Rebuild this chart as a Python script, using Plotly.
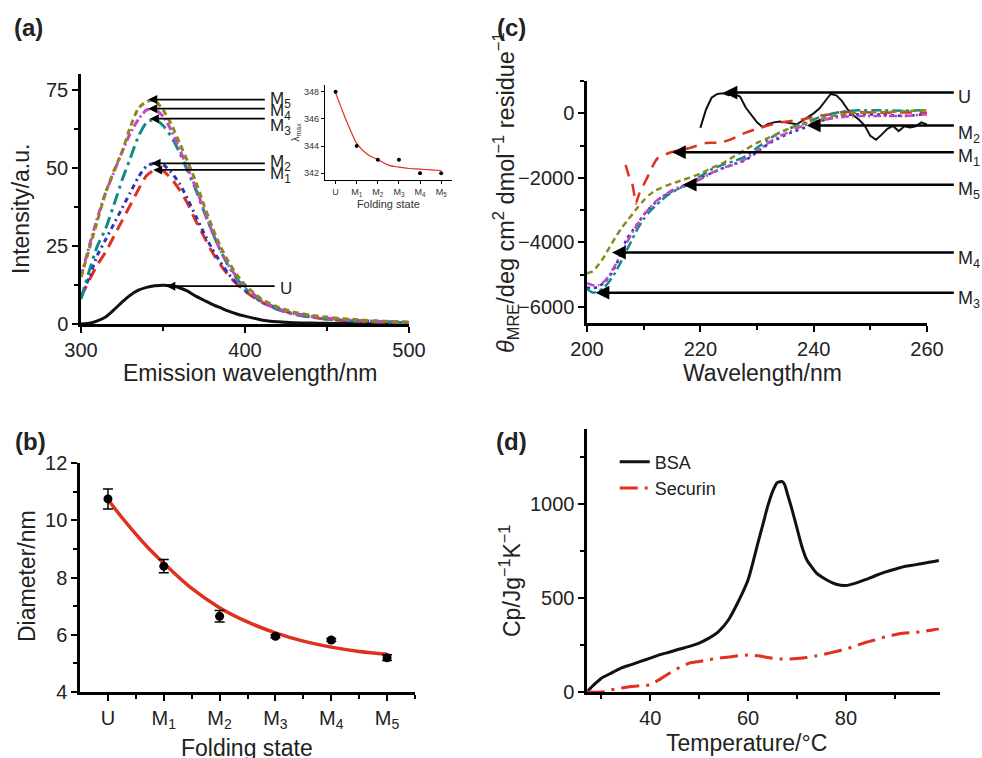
import plotly.graph_objects as go

FONT = "Liberation Sans, Arial, sans-serif"

# ---------------- (a) fluorescence emission ----------------
wl_a = [300, 305, 310, 315, 320, 325, 330, 335, 340, 345, 350, 355, 360, 365, 370,
        375, 380, 385, 390, 395, 400, 410, 420, 430, 440, 450, 460, 470, 480, 490, 500]
int_U = [0, 0.2, 1, 2.2, 4.5, 7, 9.2, 10.8, 11.7, 12.2, 12.4, 12.2, 11.6, 10.5, 8.9,
         7.6, 6.3, 5.2, 4.1, 3.2, 2.5, 1.3, 0.7, 0.4, 0.3, 0.2, 0.15, 0.1, 0.1, 0.1, 0.1]
int_M1 = [8.7, 14, 19, 23, 28, 33, 38, 43, 47.5, 49.3, 49, 46.5, 43, 38.5, 33,
          28, 23, 19, 15.5, 12.8, 10.5, 7, 4.8, 3.2, 2.2, 1.5, 1.1, 0.8, 0.6, 0.5, 0.4]
int_M2 = [8.5, 15, 22, 27, 32, 37, 42, 47, 50.5, 51.5, 51, 48.5, 45, 40, 34.5,
          29, 24, 19.8, 16, 13, 10.8, 7.2, 5, 3.4, 2.4, 1.7, 1.3, 1.0, 0.8, 0.6, 0.5]
int_M3 = [8, 17, 25, 30.5, 38, 46, 53, 60, 64.5, 65.5, 63.5, 60, 55, 49, 43,
          36, 29.5, 23.5, 18.5, 14.5, 11.5, 7.2, 4.6, 3.1, 2.2, 1.6, 1.2, 0.9, 0.7, 0.5, 0.4]
int_M4 = [15, 25, 34, 42, 48.5, 55, 61, 65.5, 68.5, 68.7, 66.5, 62, 56, 50, 43.5,
          36.5, 29.5, 23.5, 18.8, 15, 12, 7.5, 4.9, 3.3, 2.4, 1.8, 1.4, 1.1, 0.9, 0.7, 0.5]
int_M5 = [15, 24, 33, 42, 49, 55, 63, 69, 71.2, 71.5, 68.5, 64, 58, 52, 45.5,
          38, 31, 24.8, 19.8, 15.8, 12.5, 8, 5.4, 3.8, 2.8, 2.2, 1.7, 1.3, 1.0, 0.8, 0.6]

# peak-arrow annotations for (a): label, head x, head y, tail x, label y
a_labels = ["M<sub>5</sub>", "M<sub>4</sub>", "M<sub>3</sub>", "M<sub>2</sub>", "M<sub>1</sub>", "U"]
a_head_x = [341, 341, 342, 343, 344, 352]
a_head_y = [71.8, 68.9, 65.7, 51.4, 49.3, 12.1]
a_tail_x = [413, 413, 413, 413, 413, 419]
a_text_y = [72.6, 68.7, 64.0, 52.6, 48.7, 12.4]

# inset of (a): lambda max vs folding state
states = ["U", "M<sub>1</sub>", "M<sub>2</sub>", "M<sub>3</sub>", "M<sub>4</sub>", "M<sub>5</sub>"]
state_idx = [0, 1, 2, 3, 4, 5]
lam_max = [348, 344, 343, 343, 342, 342]
lam_fit_x = [0, 0.25, 0.5, 0.75, 1, 1.5, 2, 2.5, 3, 3.5, 4, 4.5, 5]
lam_fit_y = [347.9, 346.9, 345.9, 345.0, 344.2, 343.4, 343.0, 342.6, 342.45, 342.35, 342.3, 342.25, 342.2]

# ---------------- (b) hydrodynamic diameter ----------------
diam = [10.75, 8.4, 6.65, 5.95, 5.82, 5.2]
diam_err = [0.35, 0.23, 0.2, 0.05, 0.05, 0.1]
diam_fit_x = [0, 0.25, 0.5, 0.75, 1, 1.5, 2, 2.5, 3, 3.5, 4, 4.5, 5]
diam_fit_y = [10.73, 10.1, 9.52, 8.98, 8.5, 7.62, 6.95, 6.45, 6.07, 5.78, 5.57, 5.42, 5.32]

# ---------------- (c) CD spectra ----------------
wl_cU = list(range(220, 261))
cd_U = [-450, 120, 490, 600, 620, 560, 600, 520, 180, -60, -280, -430, -330, -280, -250,
        -280, -300, -340, -230, -110, 0, 150, 380, 600, 560, 380, 120, -60, -200, -380,
        -700, -820, -660, -480, -390, -550, -400, -440, -400, -280, -350]
wl_cM1 = [206.8, 207.4, 208, 208.4, 208.6, 209.2, 209.9, 210.6, 211.7, 212.4, 213.5, 215,
          218, 221, 223.5, 225.5, 228, 230.5, 233.5, 236, 238, 240.5, 243, 245, 248, 252, 256, 260]
cd_M1 = [-1600, -1950, -2200, -2600, -2800, -2500, -2250, -2000, -1600, -1400, -1300, -1200,
         -1080, -920, -910, -800, -600, -450, -300, -240, -190, -90, -30, 40, 40, 20, 30, 20]
wl_c = [200, 201, 202, 203, 204, 205, 206, 207, 208, 209, 210, 211, 212, 213, 214, 215, 216,
        217, 218, 220, 222, 224, 226, 228, 230, 232, 234, 236, 238, 240, 242, 244, 246, 248,
        252, 256, 260]
cd_M2 = [-5400, -5420, -5380, -5250, -5050, -4750, -4350, -3900, -3650, -3400, -3150, -2950,
         -2780, -2620, -2520, -2420, -2340, -2270, -2200, -2000, -1850, -1700, -1570, -1450,
         -1200, -950, -760, -600, -470, -330, -200, -100, -50, -30, -40, -80, -20]
cd_M3 = [-5450, -5560, -5520, -5400, -5200, -4930, -4600, -4250, -3900, -3550, -3280, -3060,
         -2880, -2720, -2560, -2450, -2350, -2260, -2180, -1950, -1740, -1590, -1480, -1330,
         -1070, -810, -600, -446, -310, -187, -60, 20, 73, 93, 93, 83, 100]
cd_M4 = [-5270, -5330, -5330, -5220, -5000, -4700, -4350, -4020, -3690, -3420, -3150, -2950,
         -2750, -2620, -2500, -2380, -2300, -2240, -2190, -2050, -1850, -1690, -1590, -1410,
         -1170, -915, -705, -550, -395, -290, -200, -135, -100, -83, -83, -83, -30]
cd_M5 = [-4960, -4900, -4700, -4450, -4150, -3850, -3580, -3350, -3130, -2900, -2700, -2530,
         -2400, -2320, -2240, -2180, -2120, -2060, -2000, -1870, -1690, -1540, -1330, -1120,
         -915, -760, -600, -446, -340, -240, -135, -60, -10, 20, 40, 62, 100]

c_labels = ["U", "M<sub>2</sub>", "M<sub>1</sub>", "M<sub>5</sub>", "M<sub>4</sub>", "M<sub>3</sub>"]
c_head_x = [224.1, 238.8, 215.0, 216.9, 204.4, 201.5]
c_head_y = [645, -374, -1204, -2211, -4318, -5564]
c_tail_x = [265, 265, 265, 265, 265, 265]
c_text_y = [592, -550, -1280, -2310, -4443, -5668]

# ---------------- (d) DSC ----------------
temp_bsa = [27, 28, 29, 30, 32, 34, 36, 38, 40, 42, 44, 46, 48, 50, 52, 54, 56, 58, 60, 62,
            63, 64, 65, 66, 67, 67.5, 68, 69, 70, 71, 72, 74, 76, 78, 80, 82, 84, 86, 88, 90,
            92, 94, 96, 98, 99]
cp_bsa = [0, 27, 51, 74, 101, 128, 145, 163, 181, 199, 213, 229, 243, 261, 287, 323, 385,
          482, 598, 793, 890, 988, 1067, 1115, 1120, 1103, 1058, 970, 872, 775, 704, 633, 598,
          574, 567, 580, 598, 619, 638, 654, 668, 677, 686, 695, 700]
temp_sec = [27, 30, 32, 34, 36, 38, 40, 42, 44, 46, 48, 50, 52, 54, 56, 58, 60, 62, 64, 66,
            68, 70, 72, 74, 76, 78, 80, 82, 84, 86, 88, 90, 92, 94, 96, 98, 99]
cp_sec = [0, 0, 12, 21, 30, 34, 39, 69, 101, 131, 154, 163, 172, 181, 186, 193, 197, 193, 184,
          177, 176, 179, 184, 193, 204, 216, 229, 246, 264, 278, 293, 305, 314, 317, 323, 332, 335]

BLACK = "#111111"
RED = "#e0301e"
BLUE = "#2b35b5"
TEAL = "#138a8a"
MAGENTA = "#c446c6"
OLIVE = "#8a8a1c"

fig = go.Figure()

def line(x, y, color, dash, width, xa, ya, name="", shape="spline", legend=False, smooth=0.6):
    fig.add_trace(go.Scatter(x=x, y=y, mode="lines", name=name, showlegend=legend,
                             line=dict(color=color, dash=dash, width=width, shape=shape,
                                       smoothing=smooth),
                             xaxis=xa, yaxis=ya))

# (a)
line(wl_a, int_U, BLACK, "solid", 3, "x", "y")
line(wl_a, int_M1, RED, "12px,7px", 3, "x", "y")
line(wl_a, int_M2, BLUE, "5px,4px,2px,4px", 3, "x", "y")
line(wl_a, int_M3, TEAL, "12px,5px,3px,5px", 3, "x", "y")
line(wl_a, int_M4, MAGENTA, "8px,3px,2px,3px", 3, "x", "y")
line(wl_a, int_M5, OLIVE, "6px,4px", 3, "x", "y")

# inset
line(lam_fit_x, lam_fit_y, RED, "solid", 1.2, "x2", "y2", smooth=1.0)
fig.add_trace(go.Scatter(x=state_idx, y=lam_max, mode="markers", showlegend=False,
                         marker=dict(color="black", size=4), xaxis="x2", yaxis="y2"))

# (b)
line(diam_fit_x, diam_fit_y, RED, "solid", 3.5, "x4", "y4", smooth=1.0)
fig.add_trace(go.Scatter(x=state_idx, y=diam, mode="markers", showlegend=False,
                         marker=dict(color="black", size=9),
                         error_y=dict(type="data", array=diam_err, color="black",
                                      thickness=1.5, width=5),
                         xaxis="x4", yaxis="y4"))

# (c)
line(wl_cU, cd_U, BLACK, "solid", 2, "x3", "y3", shape="linear")
line(wl_cM1, cd_M1, RED, "12px,8px", 2.5, "x3", "y3")
line(wl_c, cd_M2, BLUE, "3px,4px", 2.5, "x3", "y3")
line(wl_c, cd_M3, TEAL, "10px,4px,3px,4px", 2.5, "x3", "y3")
line(wl_c, cd_M4, MAGENTA, "8px,3px,2px,3px", 2.5, "x3", "y3")
line(wl_c, cd_M5, OLIVE, "6px,4px", 2.5, "x3", "y3")

# (d)
line(temp_bsa, cp_bsa, BLACK, "solid", 3, "x5", "y5", name="BSA", legend=True)
line(temp_sec, cp_sec, RED, "18px,7px,3px,7px", 3, "x5", "y5", name="Securin", legend=True)

AX = dict(showline=True, linecolor="black", linewidth=2.5, ticks="outside", ticklen=6,
          tickwidth=2, tickcolor="black", showgrid=False, zeroline=False,
          tickfont=dict(size=20, color="#222", family=FONT))
MINOR = dict(ticks="outside", ticklen=4, tickwidth=2, tickcolor="black", showgrid=False)

fig.update_layout(
    width=982, height=758, margin=dict(l=0, r=0, t=0, b=0, pad=0, autoexpand=False),
    paper_bgcolor="white", plot_bgcolor="white",
    font=dict(family=FONT, color="#222"),
    xaxis=dict(AX, domain=[0.0825, 0.4165], range=[300, 500], anchor="y",
               tickvals=[300, 400, 500], minor=dict(MINOR, dtick=50)),
    yaxis=dict(AX, domain=[0.5726, 0.9024], range=[0, 80], anchor="x",
               tickvals=[0, 25, 50, 75], minor=dict(MINOR, dtick=12.5)),
    xaxis2=dict(AX, domain=[0.331, 0.460], range=[-0.5, 5.5], anchor="y2",
                linewidth=1.2, ticklen=3, tickwidth=1,
                tickvals=state_idx, ticktext=states, tickfont=dict(size=9, color="#333"),
                title=dict(text="Folding state", font=dict(size=11, color="#333"), standoff=2)),
    yaxis2=dict(AX, domain=[0.7625, 0.888], range=[341.5, 348.5], anchor="x2",
                linewidth=1.2, ticklen=3, tickwidth=1,
                tickvals=[342, 344, 346, 348], tickfont=dict(size=9, color="#333"),
                title=dict(text="λ<sub>max</sub>", font=dict(size=10, color="#333"), standoff=2)),
    xaxis3=dict(AX, domain=[0.5978, 0.944], range=[200, 260], anchor="y3",
                tickvals=[200, 220, 240, 260], minor=dict(MINOR, dtick=10)),
    yaxis3=dict(AX, domain=[0.574, 0.893], range=[-6500, 1000], anchor="x3",
                tickvals=[-6000, -4000, -2000, 0], minor=dict(MINOR, dtick=1000)),
    xaxis4=dict(AX, domain=[0.0815, 0.4226], range=[-0.5, 5.5], anchor="y4",
                tickvals=state_idx, ticktext=states,
                minor=dict(MINOR, tickvals=[0.5, 1.5, 2.5, 3.5, 4.5, 5.5])),
    yaxis4=dict(AX, domain=[0.087, 0.389], range=[4, 12], anchor="x4",
                tickvals=[4, 6, 8, 10, 12], minor=dict(MINOR, dtick=1)),
    xaxis5=dict(AX, domain=[0.598, 0.957], range=[27.1, 99.2], anchor="y5",
                tickvals=[40, 60, 80], minor=dict(MINOR, dtick=10)),
    yaxis5=dict(AX, domain=[0.087, 0.434], range=[0, 1400], anchor="x5",
                tickvals=[0, 500, 1000], minor=dict(MINOR, dtick=250)),
    legend=dict(x=0.626, y=0.415, xanchor="left", yanchor="top", bgcolor="rgba(0,0,0,0)",
                font=dict(size=18, color="#222", family=FONT), tracegroupgap=0),
)

ann = []
# arrows and labels (a)
for lab, hx, hy, tx, ty in zip(a_labels, a_head_x, a_head_y, a_tail_x, a_text_y):
    ann.append(dict(x=hx, y=hy, ax=tx, ay=hy, xref="x", yref="y", axref="x", ayref="y",
                    text="", showarrow=True, arrowhead=2, arrowsize=1.0, arrowwidth=1.8,
                    arrowcolor="black", standoff=0))
    ann.append(dict(x=tx + 1, y=ty, xref="x", yref="y", text=lab, showarrow=False,
                    xanchor="left", yanchor="middle", yshift=-3,
                    font=dict(size=17, color="#222")))
# arrows and labels (c)
for lab, hx, hy, tx, ty in zip(c_labels, c_head_x, c_head_y, c_tail_x, c_text_y):
    ann.append(dict(x=hx, y=hy, ax=tx, ay=hy, xref="x3", yref="y3", axref="x3", ayref="y3",
                    text="", showarrow=True, arrowhead=2, arrowsize=1.1, arrowwidth=2.5,
                    arrowcolor="black", standoff=0))
    ann.append(dict(x=1.085, y=ty, xref="x3 domain", yref="y3", text=lab, showarrow=False,
                    xanchor="left", yanchor="middle", yshift=-3,
                    font=dict(size=18, color="#222")))

def ptext(text, px, py, size, angle=0, bold=False):
    t = f"<b>{text}</b>" if bold else text
    ann.append(dict(x=px / 982, y=1 - py / 758, xref="paper", yref="paper", text=t,
                    showarrow=False, xanchor="center", yanchor="middle", textangle=angle,
                    font=dict(size=size, color="#222", family=FONT)))

# panel letters
ptext("(a)", 28, 28, 24, bold=True)
ptext("(b)", 30, 441, 24, bold=True)
ptext("(c)", 512, 28, 24, bold=True)
ptext("(d)", 512, 441, 24, bold=True)
# axis titles
ptext("Emission wavelength/nm", 250, 373, 23)
ptext("Intensity/a.u.", 21, 209, 23, angle=-90)
ptext("Folding state", 247, 748, 23)
ptext("Diameter/nm", 27, 576, 23, angle=-90)
ptext("Wavelength/nm", 762, 373, 23)
ptext("<i>θ</i><sub>MRE</sub>/deg cm<sup>2</sup> dmol<sup>−1</sup> residue<sup>−1</sup>",
      505, 193, 23.5, angle=-90)
ptext("Temperature/°C", 746, 743, 23)
ptext("Cp/Jg<sup>−1</sup>K<sup>−1</sup>", 510, 581, 23, angle=-90)

fig.update_layout(annotations=ann)
fig.write_html("out.html", config={"displayModeBar": False},
               post_script="document.body.style.margin='0';document.body.style.padding='0';")
